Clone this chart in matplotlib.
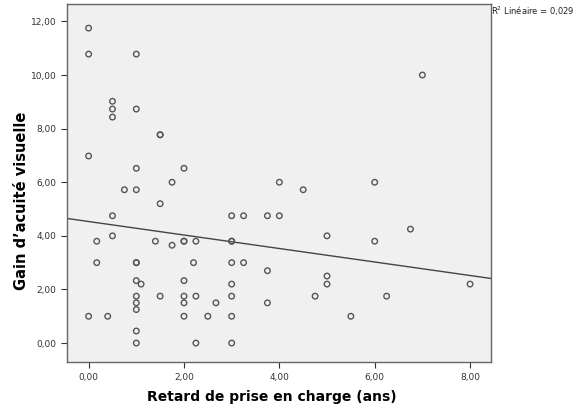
import numpy as np
import matplotlib.pyplot as plt
from matplotlib.ticker import FuncFormatter

# retard de prise en charge (ans) et gain d'acuité visuelle
retard = [0, 0, 1, 0.5, 0.5, 0.5, 1, 1.5, 1.5, 0, 1, 2, 1.75, 0.75, 1, 1.5,
          0.5, 3, 3.25, 0.17, 0.5, 1.4, 1.75, 2, 2, 2.25, 3, 3, 0.17, 1, 1,
          2.2, 3, 3.25, 1, 1.1, 2, 3, 1, 1, 1, 1.5, 2, 2, 2.25, 2.67, 3, 0,
          0.4, 2, 2.5, 3, 1, 1, 2.25, 3, 4, 4.5, 6, 3.75, 4, 6.75, 5, 6,
          3.75, 5, 5, 4.75, 6.25, 3.75, 5.5, 8, 7]
gain = [11.75, 10.78, 10.78, 9.02, 8.73, 8.43, 8.73, 7.77, 7.77, 6.98, 6.52,
        6.52, 6.0, 5.72, 5.72, 5.2, 4.75, 4.75, 4.75, 3.8, 4.0, 3.8, 3.65,
        3.8, 3.8, 3.8, 3.8, 3.8, 3.0, 3.0, 3.0, 3.0, 3.0, 3.0, 2.33, 2.2,
        2.33, 2.2, 1.75, 1.5, 1.25, 1.75, 1.75, 1.5, 1.75, 1.5, 1.75, 1.0,
        1.0, 1.0, 1.0, 1.0, 0.45, 0, 0, 0, 6.0, 5.72, 6.0, 4.75, 4.75, 4.25,
        4.0, 3.8, 2.7, 2.5, 2.2, 1.75, 1.75, 1.5, 1.0, 2.2, 10.0]
xticks = [0, 2, 4, 6, 8]
yticks = [0, 2, 4, 6, 8, 10, 12]

x = np.array(retard)
y = np.array(gain)
slope, intercept = np.polyfit(x, y, 1)  # droite de régression linéaire

fig = plt.figure(figsize=(5.8, 4.11), dpi=100)
ax = fig.add_axes([0.115, 0.119, 0.7316, 0.8713])
ax.set_facecolor('#f0f0f0')

xlim = (-0.46, 8.44)
ax.set_xlim(xlim)
ax.set_ylim(-0.71, 12.65)

ax.scatter(x, y, s=16, facecolors='none', edgecolors='#555555', linewidths=1.0, zorder=3)
xs = np.array(xlim)
ax.plot(xs, intercept + slope * xs, color='#444444', lw=1.0, zorder=2)

fmt = FuncFormatter(lambda v, p: f'{v:.2f}'.replace('.', ','))
ax.set_xticks(xticks)
ax.set_yticks(yticks)
ax.xaxis.set_major_formatter(fmt)
ax.yaxis.set_major_formatter(fmt)
ax.tick_params(labelsize=6.5, labelcolor='#333333', color='#333333', length=4, width=0.8)
for s in ax.spines.values():
    s.set_color('#666666')
    s.set_linewidth(1.0)

ax.set_xlabel('Retard de prise en charge (ans)', fontsize=10, fontweight='bold')
ax.xaxis.set_label_coords(0.484, -0.078)
ax.set_ylabel('Gain d’acuité visuelle', fontsize=10.5, fontweight='bold')
ax.yaxis.set_label_coords(-0.09, 0.45)

fig.text(0.847, 0.973, 'R$^2$ Linéaire = 0,029', fontsize=6, color='#222222',
         ha='left', va='center')

fig.savefig('out.png', dpi=100)
